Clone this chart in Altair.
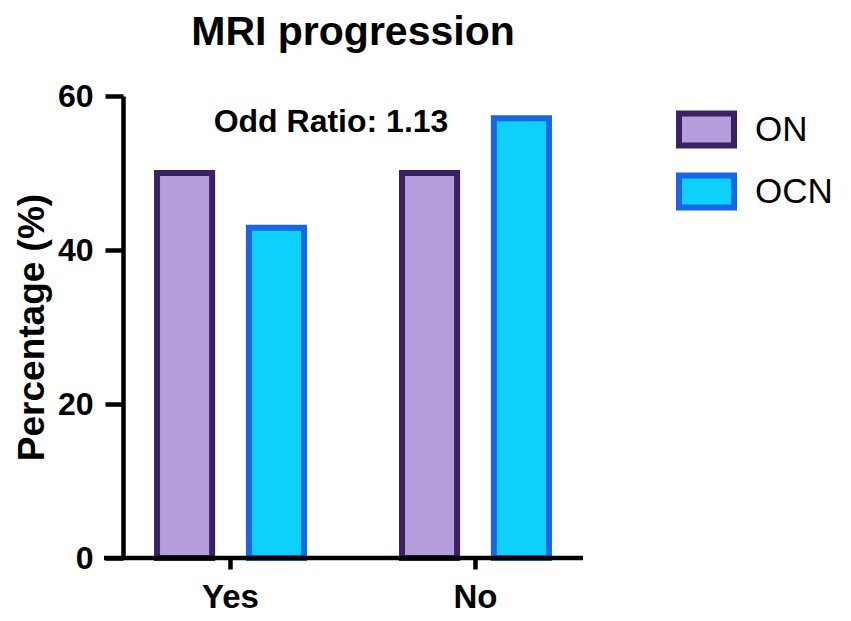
import altair as alt
import pandas as pd

categories = ["Yes", "Yes", "No", "No"]
groups = ["ON", "OCN", "ON", "OCN"]
values = [50.0, 42.9, 50.0, 57.1]

cat_order = ["Yes", "No"]
group_order = ["ON", "OCN"]
fill_colors = ["#B39DDB", "#0DD0FC"]
stroke_colors = ["#3B2063", "#1766E8"]
y_ticks = [0, 20, 40, 60]
annotation = "Odd Ratio: 1.13"

df = pd.DataFrame({"Category": categories, "Group": groups, "Percentage": values})

FONT = "Liberation Sans"
W, H = 460, 462

ysc = alt.Scale(domain=[0, 60], nice=False)

legend_kw = dict(title=None, orient="none", legendX=553, legendY=3,
                 symbolType="M-1,-0.58H1V0.58H-1Z", symbolSize=3025,
                 symbolStrokeWidth=6, labelFont=FONT, labelFontSize=35,
                 labelColor="black", labelOffset=18, rowPadding=3)

bars = alt.Chart(df).mark_bar(strokeWidth=6).encode(
    x=alt.X("Category:N", sort=cat_order,
            scale=alt.Scale(paddingInner=0.4, paddingOuter=0.139),
            axis=alt.Axis(title=None, labelAngle=0, labelFont=FONT, labelFontSize=33,
                          labelFontWeight="bold", labelColor="black", labelPadding=12,
                          tickSize=11, tickWidth=4.5, tickColor="black",
                          domain=False, grid=False)),
    xOffset=alt.XOffset("Group:N", sort=group_order,
                        scale=alt.Scale(paddingInner=0.4, paddingOuter=0)),
    y=alt.Y("Percentage:Q", scale=ysc,
            axis=alt.Axis(title="Percentage (%)", values=y_ticks, titleFont=FONT,
                          titleFontSize=37, titleFontWeight="bold", titleColor="black",
                          titlePadding=6, labelFont=FONT, labelFontSize=32,
                          labelFontWeight="bold", labelColor="black", labelPadding=12,
                          tickSize=18, tickWidth=4.5, tickColor="black",
                          domainWidth=4.5, domainColor="black", grid=False)),
    fill=alt.Fill("Group:N", sort=group_order,
                  scale=alt.Scale(domain=group_order, range=fill_colors),
                  legend=alt.Legend(**legend_kw)),
    stroke=alt.Stroke("Group:N", sort=group_order,
                      scale=alt.Scale(domain=group_order, range=stroke_colors),
                      legend=alt.Legend(**legend_kw)),
)

xline = alt.Chart(pd.DataFrame({"v": [0]})).mark_rule(color="black", strokeWidth=4.5).encode(
    x=alt.value(-19), x2=alt.value(W), y=alt.Y("v:Q", scale=ysc)
)

note = alt.Chart(pd.DataFrame({"t": [annotation], "yv": [56.6]})).mark_text(
    font=FONT, fontSize=32, fontWeight="bold", color="black", baseline="middle", align="center"
).encode(x=alt.value(208), y=alt.Y("yv:Q", scale=ysc), text="t:N")

chart = alt.layer(bars, xline, note).properties(
    width=W, height=H,
    title=alt.TitleParams("MRI progression", font=FONT, fontSize=41, fontWeight="bold",
                          color="black", anchor="middle", frame="group", offset=26),
    padding={"left": 115, "top": 88, "right": 255, "bottom": 55},
    autosize=alt.AutoSizeParams(type="none"),
).configure(background="white", view=alt.ViewConfig(stroke=None))

chart.save("out.html", embed_options={"renderer": "svg", "actions": False})
